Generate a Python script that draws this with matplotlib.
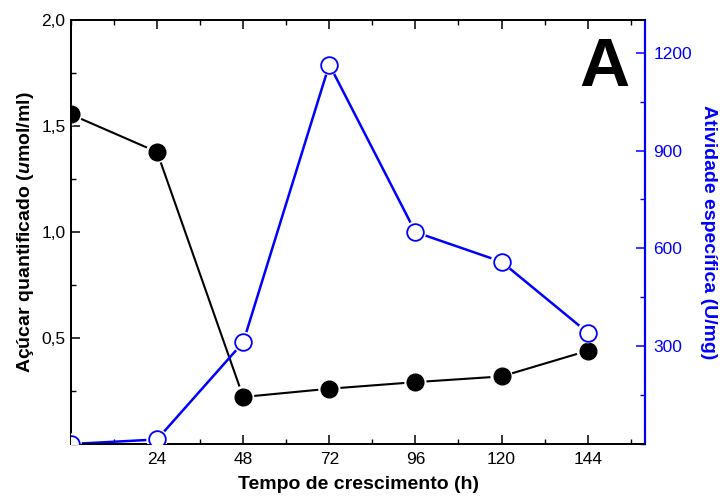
import matplotlib
matplotlib.use("Agg")
import matplotlib.pyplot as plt
from matplotlib.ticker import FixedLocator, MultipleLocator, FuncFormatter

plt.rcParams['font.family'] = ['Liberation Sans', 'DejaVu Sans']
plt.rcParams['mathtext.fontset'] = 'custom'
plt.rcParams['mathtext.it'] = 'Liberation Sans:italic:bold'
plt.rcParams['mathtext.rm'] = 'Liberation Sans:bold'

# Growth time (h)
tempo = [0, 24, 48, 72, 96, 120, 144]
# Quantified sugar (umol/ml)
acucar = [1.555, 1.378, 0.222, 0.261, 0.292, 0.319, 0.44]
# Specific activity (U/mg)
atividade = [0, 14, 312, 1164, 650, 559, 342]

x_ticks = [24, 48, 72, 96, 120, 144]
y_left_ticks = [0.5, 1.0, 1.5, 2.0]
y_right_ticks = [300, 600, 900, 1200]

BLUE = '#0000ff'

fig = plt.figure(figsize=(7.25, 5.04), dpi=100)
ax = fig.add_axes([0.0979, 0.119, 0.7918, 0.841])
ax2 = ax.twinx()

# Sugar series: black line with filled circles; a white halo leaves small gaps
ax.plot(tempo, acucar, color='black', lw=1.5, zorder=2)
ax.scatter(tempo, acucar, s=16**2, c='white', edgecolors='none', zorder=3)
ax.scatter(tempo, acucar, s=12**2, c='black', edgecolors='black', zorder=4)

# Activity series: blue line with open circles
ax2.plot(tempo, atividade, color=BLUE, lw=1.8, zorder=2)
ax2.scatter(tempo, atividade, s=15.5**2, c='white', edgecolors='none', zorder=3)
ax2.scatter(tempo, atividade, s=12**2, c='white', edgecolors=BLUE, linewidths=1.3, zorder=4)

ax.set_xlim(0, 160)
ax.set_ylim(0, 2.0)
ax2.set_ylim(0, 1300)

ax.xaxis.set_major_locator(FixedLocator(x_ticks))
ax.xaxis.set_minor_locator(MultipleLocator(12))
ax.yaxis.set_major_locator(FixedLocator(y_left_ticks))
ax.yaxis.set_minor_locator(MultipleLocator(0.25))
ax.yaxis.set_major_formatter(FuncFormatter(lambda v, p: f"{v:.1f}".replace('.', ',')))
ax2.yaxis.set_major_locator(FixedLocator(y_right_ticks))
ax2.yaxis.set_minor_locator(MultipleLocator(150))

ax.tick_params(axis='x', which='both', direction='in', top=True, labelsize=12.5, pad=6)
ax.tick_params(axis='y', which='both', direction='in', right=False, labelsize=12.5, pad=4)
ax.tick_params(which='major', length=6.5, width=1.1)
ax.tick_params(which='minor', length=3.5, width=1.0)
ax2.tick_params(axis='y', which='both', direction='in', colors=BLUE, labelsize=12.5, pad=6)
ax2.tick_params(which='major', length=6.5, width=1.1)
ax2.tick_params(which='minor', length=3.5, width=1.0)

for s in ['left', 'bottom', 'top']:
    ax.spines[s].set_linewidth(1.3)
    ax2.spines[s].set_linewidth(1.3)
ax2.spines['right'].set_color(BLUE)
ax2.spines['right'].set_linewidth(1.6)
ax.spines['right'].set_visible(False)

ax.set_xlabel('Tempo de crescimento (h)', fontsize=14, fontweight='bold', labelpad=6)
ax.set_ylabel(r'Açúcar quantificado ($\mathit{u}$mol/ml)', fontsize=14, fontweight='bold', labelpad=4)
ax2.set_ylabel('Atividade específica (U/mg)', fontsize=14, fontweight='bold', color=BLUE,
               rotation=-90, labelpad=18)

ax.text(0.93, 0.887, 'A', transform=ax.transAxes, fontsize=50, fontweight='bold',
        ha='center', va='center', zorder=10)

fig.savefig('out.png', dpi=100)
